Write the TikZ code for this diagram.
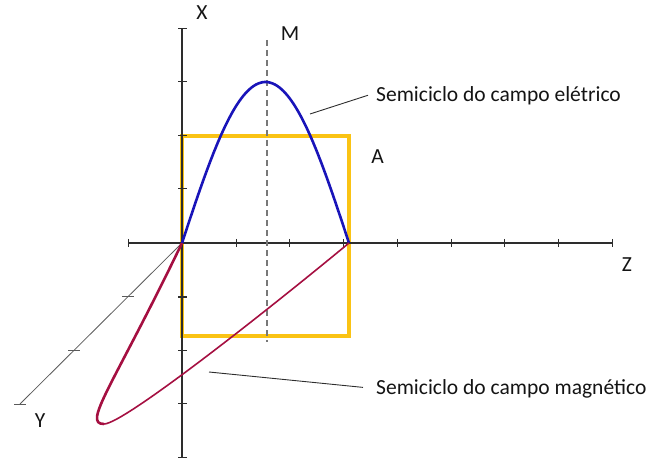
\documentclass[tikz,border=0pt]{standalone}
\usepackage{fontspec}
\setmainfont{Carlito}
\definecolor{axisc}{RGB}{45,45,45}
\definecolor{yaxisc}{RGB}{90,90,90}
\definecolor{boxc}{RGB}{250,195,20}
\definecolor{bluec}{RGB}{25,20,185}
\definecolor{magc}{RGB}{165,15,65}
\definecolor{dashc}{RGB}{120,120,120}
\definecolor{txtc}{RGB}{20,20,20}
\begin{document}
\begin{tikzpicture}[x=1bp,y=-1bp,
  axisline/.style={draw=axisc,line width=1.1bp},
  yaxisline/.style={draw=yaxisc,line width=0.8bp},
  tickmark/.style={draw=axisc,line width=1bp},
  boxline/.style={draw=boxc,line width=4bp},
  ecurve/.style={draw=bluec,line width=2.6bp},
  mthick/.style={draw=magc,line width=2.6bp},
  mthin/.style={draw=magc,line width=1.6bp},
  mline/.style={draw=dashc,line width=1.3bp,dash pattern=on 6bp off 4bp},
  leader/.style={draw=axisc,line width=0.9bp},
  lbl/.style={font=\fontsize{21.6}{26}\selectfont,text=txtc,inner sep=0pt}]
\useasboundingbox (0,0) rectangle (646,458);
% named points
\coordinate (O) at (182,243);
\coordinate (Xtop) at (182,29);
\coordinate (Xbot) at (182,457);
\coordinate (Zl) at (128,243);
\coordinate (Zr) at (612,243);
\coordinate (Yend) at (20,404);
\coordinate (E) at (349,243);
\coordinate (T) at (104,424);
\coordinate (Mtop) at (267,40);
\coordinate (Mbot) at (267,342);
% box A
\draw[boxline] (182,136) rectangle (349,336);
% axes
\draw[axisline] (Xtop) -- (Xbot);
\draw[axisline] (Zl) -- (Zr);
\draw[yaxisline] (O) -- (Yend);
\foreach \yy in {29,82,136,189,297,350,403,457}
  \draw[tickmark] (178,\yy) -- (187,\yy);
\foreach \xx in {128,236,289,343,397,451,504,558,612}
  \draw[tickmark] (\xx,239) -- (\xx,247);
\foreach \k in {1,2,3}
  \draw[yaxisline] ({182-54*\k-6},{243+53.7*\k}) -- ({182-54*\k+6},{243+53.7*\k});
% dashed line M
\draw[mline] (Mtop) -- (Mbot);
% electric field semicycle
\draw[ecurve] plot[domain=0:1,samples=80,variable=\t] ({182+167*\t},{243-161*sin(180*\t)});
% magnetic field semicycle
\draw[mthick] (O) .. controls (112.6,387) and (82,424) .. (T);
\draw[mthin] (T) .. controls (124,424) and (272,306.7) .. (E);
% labels
\node[lbl,anchor=base] (lX) at (202,20) {X};
\node[lbl,anchor=base] (lM) at (290,41) {M};
\node[lbl,anchor=base] (lA) at (377.5,164) {A};
\node[lbl,anchor=base] (lZ) at (627,272) {Z};
\node[lbl,anchor=base] (lY) at (40,427) {Y};
\node[lbl,anchor=base west] (le) at (376,102) {Semiciclo do campo elétrico};
\node[lbl,anchor=base west] (lm) at (376,394) {Semiciclo do campo magnético};
% leaders
\coordinate (ep) at (310,114);
\coordinate (mp) at (209,372);
\draw[leader] (ep) -- ([xshift=-8bp,yshift=1bp]le.west);
\draw[leader] (mp) -- ([xshift=-13bp,yshift=1bp]lm.west);
\end{tikzpicture}
\end{document}
